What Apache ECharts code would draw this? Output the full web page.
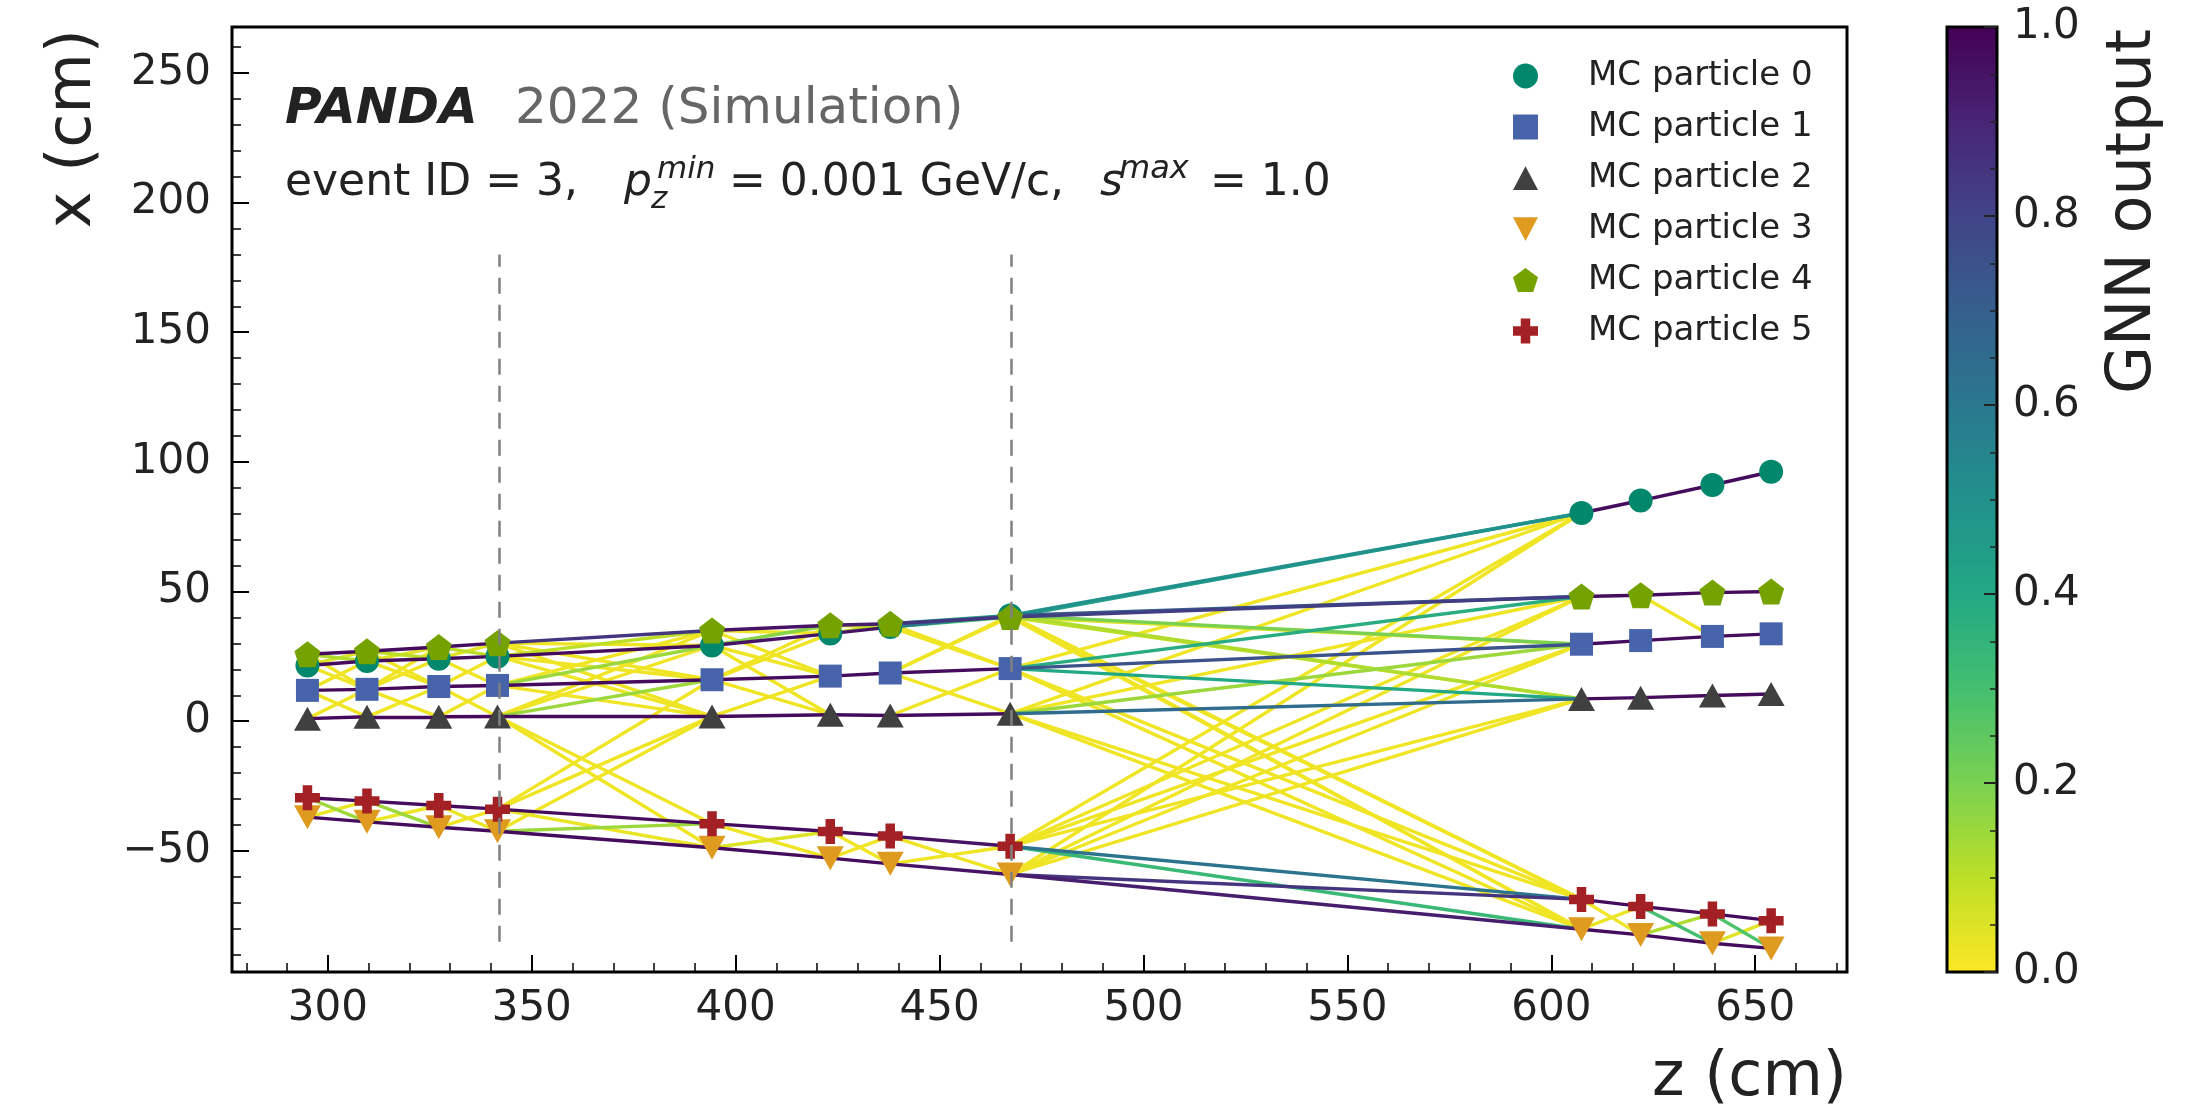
<!DOCTYPE html>
<html>
<head>
<meta charset="utf-8">
<script src="https://cdn.jsdelivr.net/npm/echarts@6.0.0/dist/echarts.min.js"></script>
<style>
html, body { margin: 0; padding: 0; background: #fff; }
#chart { width: 2188px; height: 1108px; }
</style>
</head>
<body>
<div id="chart"></div>
<script>
var myChart = echarts.init(document.getElementById('chart'));

// detector layers along z (cm)
var layerZ = [295.0, 309.6, 327.2, 341.6, 394.2, 423.2, 437.9, 467.3, 607.4, 621.9, 639.5, 653.9];

// x (cm) of each MC particle's hit, one per layer
var mc0 = [21.5, 23.2, 24.1, 25.0, 29.2, 33.8, 36.3, 40.8, 80.3, 85.1, 91.1, 96.2];
var mc1 = [11.9, 12.3, 13.4, 13.8, 16.0, 17.4, 18.6, 20.3, 29.7, 31.1, 32.7, 33.7];
var mc2 = [1.0, 1.7, 1.7, 1.85, 1.85, 2.5, 2.2, 2.9, 8.6, 9.1, 9.9, 10.5];
var mc3 = [-37.0, -38.8, -40.9, -42.4, -48.8, -52.8, -55.0, -59.1, -80.2, -82.4, -85.6, -87.6];
var mc4 = [25.8, 27.0, 28.6, 30.1, 35.0, 37.0, 37.6, 40.2, 48.1, 48.6, 49.6, 50.0];
var mc5 = [-29.5, -30.8, -32.5, -33.9, -39.5, -42.5, -44.3, -48.2, -68.7, -71.4, -74.3, -76.9];

var particleNames = ['MC particle 0', 'MC particle 1', 'MC particle 2', 'MC particle 3', 'MC particle 4', 'MC particle 5'];
var particleX = [mc0, mc1, mc2, mc3, mc4, mc5];

// graph edges: [layer of first hit, particle of first hit, particle of hit in next layer, GNN output]
var edges = [
    [0, 0, 0, 0.97], [0, 1, 1, 0.98], [0, 2, 2, 0.98], [0, 3, 3, 0.97], [0, 4, 4, 0.97], [0, 5, 5, 0.97],
    [0, 0, 4, 0.05], [0, 0, 1, 0.02], [0, 4, 0, 0.12], [0, 4, 1, 0.02], [0, 1, 0, 0.02], [0, 1, 2, 0.02],
    [0, 2, 1, 0.02], [0, 5, 3, 0.15], [0, 3, 5, 0.03],

    [1, 0, 0, 0.97], [1, 1, 1, 0.98], [1, 2, 2, 0.98], [1, 3, 3, 0.97], [1, 4, 4, 0.97], [1, 5, 5, 0.97],
    [1, 0, 4, 0.04], [1, 0, 1, 0.02], [1, 4, 0, 0.10], [1, 4, 1, 0.02], [1, 1, 0, 0.02], [1, 1, 4, 0.02],
    [1, 1, 2, 0.02], [1, 2, 1, 0.02], [1, 5, 3, 0.15], [1, 3, 5, 0.03],

    [2, 0, 0, 0.97], [2, 1, 1, 0.98], [2, 2, 2, 0.98], [2, 3, 3, 0.97], [2, 4, 4, 0.97], [2, 5, 5, 0.97],
    [2, 0, 4, 0.04], [2, 0, 1, 0.02], [2, 4, 0, 0.10], [2, 1, 0, 0.02], [2, 1, 2, 0.02], [2, 2, 1, 0.02],
    [2, 5, 3, 0.03], [2, 3, 5, 0.02],

    [3, 0, 0, 0.97], [3, 0, 4, 0.10], [3, 0, 1, 0.02], [3, 0, 2, 0.02],
    [3, 4, 0, 0.02], [3, 4, 4, 0.85], [3, 4, 1, 0.02], [3, 4, 2, 0.02],
    [3, 1, 0, 0.15], [3, 1, 4, 0.02], [3, 1, 1, 0.97], [3, 1, 2, 0.02],
    [3, 2, 0, 0.02], [3, 2, 4, 0.02], [3, 2, 1, 0.15], [3, 2, 2, 0.97],
    [3, 2, 5, 0.02], [3, 2, 3, 0.02], [3, 5, 2, 0.02], [3, 5, 1, 0.02], [3, 3, 2, 0.02],
    [3, 5, 5, 0.97], [3, 5, 3, 0.03], [3, 3, 5, 0.15], [3, 3, 3, 0.97],

    [4, 0, 0, 0.95], [4, 0, 4, 0.18], [4, 0, 1, 0.02], [4, 0, 2, 0.02], [4, 4, 0, 0.02], [4, 4, 4, 0.95],
    [4, 4, 1, 0.02], [4, 1, 0, 0.02], [4, 1, 4, 0.02], [4, 1, 1, 0.97], [4, 1, 2, 0.02], [4, 2, 1, 0.02],
    [4, 2, 2, 0.97], [4, 5, 5, 0.97], [4, 5, 3, 0.02], [4, 3, 5, 0.05], [4, 3, 3, 0.97],

    [5, 0, 0, 0.95], [5, 0, 4, 0.10], [5, 4, 0, 0.05], [5, 4, 4, 0.92], [5, 1, 1, 0.97], [5, 2, 2, 0.97],
    [5, 5, 5, 0.97], [5, 3, 3, 0.97], [5, 5, 3, 0.02], [5, 3, 5, 0.02],

    [6, 0, 0, 0.60], [6, 0, 4, 0.30], [6, 0, 1, 0.02], [6, 4, 0, 0.45], [6, 4, 4, 0.85], [6, 4, 1, 0.02],
    [6, 1, 0, 0.02], [6, 1, 4, 0.02], [6, 1, 1, 0.97], [6, 1, 2, 0.02], [6, 2, 1, 0.02], [6, 2, 2, 0.97],
    [6, 5, 5, 0.95], [6, 5, 3, 0.02], [6, 3, 5, 0.02], [6, 3, 3, 0.95],

    [7, 0, 0, 0.50], [7, 0, 4, 0.70], [7, 0, 1, 0.20], [7, 0, 2, 0.12], [7, 0, 5, 0.02], [7, 0, 3, 0.02],
    [7, 4, 0, 0.45], [7, 4, 4, 0.82], [7, 4, 1, 0.05], [7, 4, 2, 0.10], [7, 4, 5, 0.02], [7, 4, 3, 0.02],
    [7, 1, 0, 0.02], [7, 1, 4, 0.38], [7, 1, 1, 0.75], [7, 1, 2, 0.40], [7, 1, 5, 0.02], [7, 1, 3, 0.02],
    [7, 2, 0, 0.02], [7, 2, 4, 0.02], [7, 2, 1, 0.15], [7, 2, 2, 0.65], [7, 2, 5, 0.02], [7, 2, 3, 0.02],
    [7, 5, 0, 0.02], [7, 5, 4, 0.02], [7, 5, 1, 0.02], [7, 5, 2, 0.02], [7, 5, 5, 0.62], [7, 5, 3, 0.33],
    [7, 3, 0, 0.02], [7, 3, 4, 0.02], [7, 3, 1, 0.02], [7, 3, 2, 0.02], [7, 3, 5, 0.85], [7, 3, 3, 0.92],

    [8, 0, 0, 0.97], [8, 1, 1, 0.97], [8, 2, 2, 0.97], [8, 3, 3, 0.97], [8, 4, 4, 0.97], [8, 5, 5, 0.97],
    [8, 5, 3, 0.02], [8, 3, 5, 0.03],

    [9, 0, 0, 0.97], [9, 1, 1, 0.97], [9, 2, 2, 0.97], [9, 3, 3, 0.97], [9, 4, 4, 0.97], [9, 5, 5, 0.97],
    [9, 4, 1, 0.02], [9, 5, 3, 0.30], [9, 3, 5, 0.12],

    [10, 0, 0, 0.97], [10, 1, 1, 0.97], [10, 2, 2, 0.97], [10, 3, 3, 0.97], [10, 4, 4, 0.97], [10, 5, 5, 0.97],
    [10, 5, 3, 0.28], [10, 3, 5, 0.04]
];

// dashed detector boundaries
var dashZ = [342, 467.5];
var dashX = [-85, 180];

var colorbarRange = [0, 1];

// viridis, low to high
var viridis = ['#440154', '#482475', '#414487', '#355f8d', '#2a788e', '#21918c',
    '#22a884', '#44bf70', '#7ad151', '#bddf26', '#fde725'];

function hexRgb(h) {
    return [parseInt(h.substr(1, 2), 16), parseInt(h.substr(3, 2), 16), parseInt(h.substr(5, 2), 16)];
}

// reversed viridis: 1 -> purple, 0 -> yellow
function gnnColor(s) {
    var t = (1 - s) * 10;
    var i = Math.min(9, Math.floor(t));
    var f = t - i;
    var a = hexRgb(viridis[i]), b = hexRgb(viridis[i + 1]);
    var c = [0, 1, 2].map(function (k) { return Math.round(a[k] + (b[k] - a[k]) * f); });
    return 'rgb(' + c.join(',') + ')';
}

var edgeData = edges.slice().sort(function (a, b) { return a[3] - b[3]; }).map(function (e) {
    var l = e[0];
    return {
        coords: [[layerZ[l], particleX[e[1]][l]], [layerZ[l + 1], particleX[e[2]][l + 1]]],
        lineStyle: { color: gnnColor(e[3]) }
    };
});

var markerStyle = [
    { symbol: 'circle', size: 24, color: '#00876c' },
    { symbol: 'rect', size: 23, color: '#4764aa' },
    { symbol: 'path://M0,-1 L1,0.9 L-1,0.9 Z', size: [27, 24], color: '#404040' },
    { symbol: 'path://M0,1 L1,-0.9 L-1,-0.9 Z', size: [27, 24], color: '#df9a20' },
    { symbol: 'path://M0,-10 L9.51,-3.09 L5.88,8.09 L-5.88,8.09 L-9.51,-3.09 Z', size: 26, color: '#76a200' },
    { symbol: 'path://M-0.38,-1 L0.38,-1 L0.38,-0.38 L1,-0.38 L1,0.38 L0.38,0.38 L0.38,1 L-0.38,1 L-0.38,0.38 L-1,0.38 L-1,-0.38 L-0.38,-0.38 Z', size: 25, color: '#a32024' }
];

var font = 'DejaVu Sans';
var ink = '#222';

var series = [{
    type: 'lines',
    coordinateSystem: 'cartesian2d',
    xAxisIndex: 0,
    yAxisIndex: 0,
    silent: true,
    z: 1,
    lineStyle: { width: 3.4, opacity: 1 },
    data: edgeData
}];

for (var p = 0; p < particleX.length; p++) {
    var ms = markerStyle[p];
    series.push({
        name: particleNames[p],
        type: 'scatter',
        xAxisIndex: 0,
        yAxisIndex: 0,
        symbol: ms.symbol,
        symbolSize: ms.size,
        itemStyle: { color: ms.color, opacity: 1 },
        z: 2,
        data: layerZ.map(function (z, k) { return [z, particleX[p][k]]; })
    });
}

series[1].markLine = {
    silent: true,
    symbol: ['none', 'none'],
    label: { show: false },
    lineStyle: { color: '#808080', type: [16, 11], width: 2.5 },
    data: dashZ.map(function (z) { return [{ coord: [z, dashX[0]] }, { coord: [z, dashX[1]] }]; })
};

var cbStops = viridis.map(function (c, i) { return { offset: i / 10, color: c }; });

series.push({
    type: 'custom',
    xAxisIndex: 2,
    yAxisIndex: 2,
    silent: true,
    z: 1,
    data: [[colorbarRange[0], colorbarRange[1]]],
    renderItem: function (params, api) {
        var a = api.coord([0, colorbarRange[1]]);
        var b = api.coord([1, colorbarRange[0]]);
        return {
            type: 'rect',
            shape: { x: a[0], y: a[1], width: b[0] - a[0], height: b[1] - a[1] },
            style: { fill: new echarts.graphic.LinearGradient(0, 0, 0, 1, cbStops), stroke: '#000', lineWidth: 3 }
        };
    }
});

var noLine = { show: false, onZero: false };

var option = {
    backgroundColor: '#fff',
    animation: false,
    textStyle: { fontFamily: font },
    grid: [
        { left: 232, top: 27, width: 1615, height: 945, show: true, borderColor: '#000', borderWidth: 3,
          backgroundColor: 'transparent', outerBoundsMode: 'none', containLabel: false },
        { left: 1947, top: 27, width: 50, height: 945, show: false, outerBoundsMode: 'none', containLabel: false }
    ],
    xAxis: [{
        gridIndex: 0, type: 'value', min: 276.5, max: 672.5, splitNumber: 8, position: 'bottom',
        axisLine: noLine,
        axisTick: { inside: true, length: 17, lineStyle: { color: '#000', width: 2 } },
        axisLabel: { fontSize: 42, color: ink, fontFamily: font, margin: 16, showMinLabel: false, showMaxLabel: false },
        splitLine: { show: false },
        name: 'z (cm)', nameLocation: 'end', nameGap: 0,
        nameTextStyle: { fontSize: 62, color: ink, fontFamily: font, align: 'right', verticalAlign: 'top', padding: [76, 0, 0, 0] }
    }, {
        gridIndex: 0, type: 'value', min: 276.5, max: 672.5, splitNumber: 40, position: 'bottom',
        axisLine: noLine,
        axisTick: { inside: true, length: 9, lineStyle: { color: '#000', width: 1.5 } },
        axisLabel: { show: false },
        splitLine: { show: false }
    }, {
        gridIndex: 1, type: 'value', min: 0, max: 1, show: false, axisLine: noLine
    }],
    yAxis: [{
        gridIndex: 0, type: 'value', min: -96.7, max: 267.7, splitNumber: 7, position: 'left',
        axisLine: noLine,
        axisTick: { inside: true, length: 17, lineStyle: { color: '#000', width: 2 } },
        axisLabel: { fontSize: 42, color: ink, fontFamily: font, margin: 21, showMinLabel: false, showMaxLabel: false,
            formatter: function (v) { return v < 0 ? '\u2212' + Math.abs(v) : String(v); } },
        splitLine: { show: false },
        name: 'x (cm)', nameLocation: 'end', nameGap: -2, nameRotate: 90,
        nameTextStyle: { fontSize: 62, color: ink, fontFamily: font, align: 'right', verticalAlign: 'bottom', padding: [0, 0, 127, 0] }
    }, {
        gridIndex: 0, type: 'value', min: -96.7, max: 267.7, splitNumber: 36, position: 'left',
        axisLine: noLine,
        axisTick: { inside: true, length: 9, lineStyle: { color: '#000', width: 1.5 } },
        axisLabel: { show: false },
        splitLine: { show: false }
    }, {
        gridIndex: 1, type: 'value', min: 0, max: 1, interval: 0.2, position: 'right', z: 5,
        axisLine: noLine,
        axisTick: { inside: true, length: 13, lineStyle: { color: '#222', width: 2 } },
        axisLabel: { fontSize: 42, color: ink, fontFamily: font, margin: 16, formatter: function (v) { return v.toFixed(1); } },
        splitLine: { show: false },
        name: 'GNN output', nameLocation: 'end', nameGap: -2, nameRotate: 90,
        nameTextStyle: { fontSize: 62, color: ink, fontFamily: font, align: 'right', verticalAlign: 'top', padding: [106, 0, 0, 0] }
    }, {
        gridIndex: 1, type: 'value', min: 0, max: 1, interval: 0.05, position: 'right', z: 5,
        axisLine: noLine,
        axisTick: { inside: true, length: 7, lineStyle: { color: '#222', width: 1.5 } },
        axisLabel: { show: false },
        splitLine: { show: false }
    }],
    legend: {
        orient: 'vertical', left: 1513, top: 59, padding: 0,
        itemWidth: 25, itemHeight: 25, itemGap: 17,
        selectedMode: false,
        textStyle: { fontSize: 34, color: ink, fontFamily: font, lineHeight: 34, padding: [0, 0, 0, 45] },
        data: particleNames
    },
    graphic: [
        { type: 'text', x: 285, y: 110, style: { text: 'PANDA', font: 'italic bold 50px "DejaVu Sans"', fill: ink, verticalAlign: 'middle' } },
        { type: 'text', x: 515, y: 110, style: { text: '2022 (Simulation)', font: '50px "DejaVu Sans"', fill: '#666', verticalAlign: 'middle' } },
        { type: 'text', x: 285, y: 184, style: { text: 'event ID = 3,', font: '44px "DejaVu Sans"', fill: ink, verticalAlign: 'middle' } },
        { type: 'text', x: 624, y: 184, style: { text: 'p', font: 'italic 44px "DejaVu Sans"', fill: ink, verticalAlign: 'middle' } },
        { type: 'text', x: 651, y: 200, style: { text: 'z', font: 'italic 31px "DejaVu Sans"', fill: ink, verticalAlign: 'middle' } },
        { type: 'text', x: 657, y: 170, style: { text: 'min', font: 'italic 31px "DejaVu Sans"', fill: ink, verticalAlign: 'middle' } },
        { type: 'text', x: 729, y: 184, style: { text: '= 0.001 GeV/c,', font: '44px "DejaVu Sans"', fill: ink, verticalAlign: 'middle' } },
        { type: 'text', x: 1100, y: 184, style: { text: 's', font: 'italic 44px "DejaVu Sans"', fill: ink, verticalAlign: 'middle' } },
        { type: 'text', x: 1119, y: 170, style: { text: 'max', font: 'italic 32px "DejaVu Sans"', fill: ink, verticalAlign: 'middle' } },
        { type: 'text', x: 1210, y: 184, style: { text: '= 1.0', font: '44px "DejaVu Sans"', fill: ink, verticalAlign: 'middle' } }
    ],
    series: series
};

myChart.setOption(option);
</script>
</body>
</html>
